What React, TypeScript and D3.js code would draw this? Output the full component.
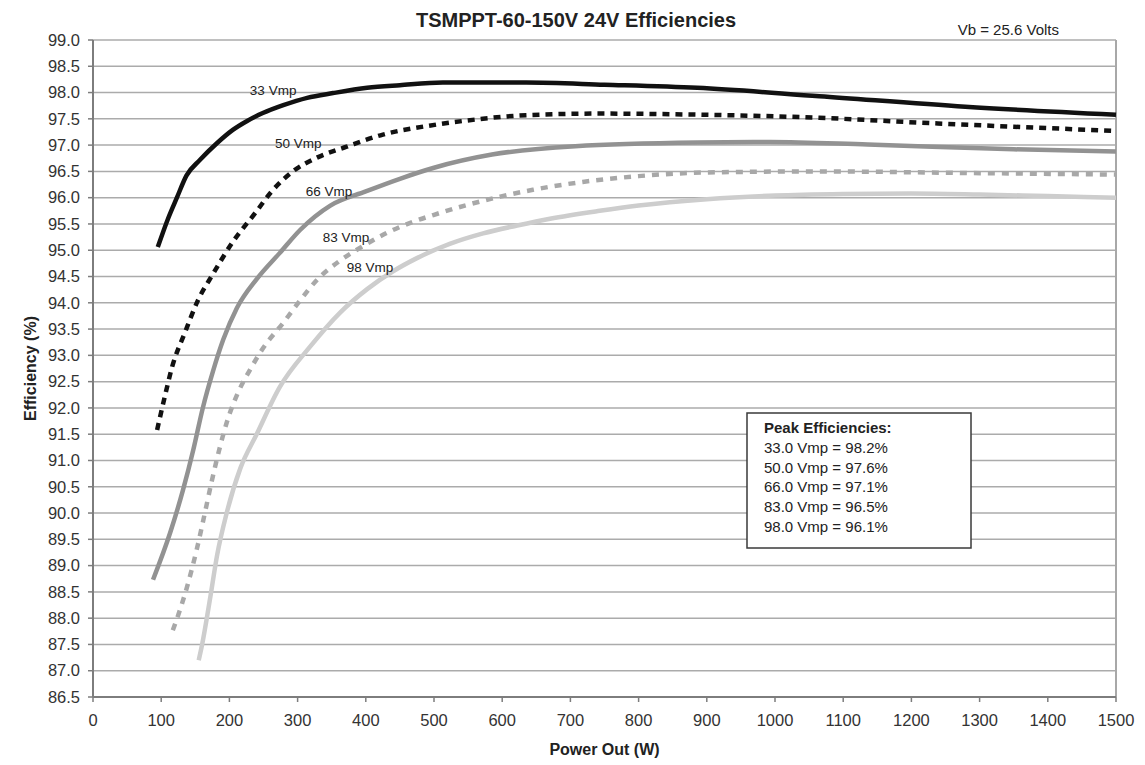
import * as d3 from "d3";

// power out (W), efficiency (%) pairs
const vmp33: [number, number][] = [
  [95, 95.06], [110, 95.6], [123, 96.0], [137, 96.42], [157, 96.72], [182, 97.04],
  [205, 97.29], [226, 97.46], [249, 97.61], [279, 97.76], [314, 97.9], [352, 97.99],
  [402, 98.09], [450, 98.14], [513, 98.19], [635, 98.19], [750, 98.15], [886, 98.09],
  [1065, 97.93], [1279, 97.73], [1500, 97.58],
];
const vmp50: [number, number][] = [
  [94, 91.58], [105, 92.2], [116, 92.78], [135, 93.44], [154, 94.05], [176, 94.55],
  [205, 95.16], [238, 95.71], [262, 96.12], [293, 96.5], [328, 96.76], [372, 96.97],
  [425, 97.2], [493, 97.37], [563, 97.49], [635, 97.57], [743, 97.6], [886, 97.58],
  [1065, 97.52], [1208, 97.43], [1350, 97.35], [1500, 97.27],
];
const vmp66: [number, number][] = [
  [88, 88.73], [113, 89.62], [132, 90.44], [147, 91.2], [161, 92.0], [176, 92.7],
  [191, 93.3], [211, 93.9], [240, 94.45], [274, 94.95], [304, 95.39], [348, 95.85],
  [400, 96.12], [450, 96.36], [500, 96.57], [585, 96.82], [707, 96.98], [886, 97.05],
  [993, 97.06], [1136, 97.01], [1350, 96.92], [1500, 96.88],
];
const vmp83: [number, number][] = [
  [117, 87.77], [125, 88.06], [138, 88.6], [152, 89.3], [164, 90.0], [174, 90.6],
  [186, 91.25], [198, 91.8], [213, 92.3], [230, 92.72], [249, 93.13], [279, 93.62],
  [304, 94.05], [328, 94.43], [362, 94.8], [396, 95.08], [431, 95.33], [469, 95.54],
  [499, 95.67], [548, 95.86], [597, 96.02], [645, 96.15], [718, 96.3], [800, 96.41],
  [900, 96.48], [1065, 96.5], [1279, 96.47], [1500, 96.44],
];
const vmp98: [number, number][] = [
  [155, 87.2], [160, 87.5], [172, 88.4], [182, 89.2], [196, 90.0], [216, 90.85],
  [240, 91.5], [274, 92.4], [318, 93.16], [362, 93.81], [402, 94.26], [440, 94.6],
  [475, 94.85], [523, 95.12], [572, 95.32], [622, 95.47], [670, 95.6], [743, 95.75],
  [800, 95.85], [900, 95.97], [1000, 96.04], [1100, 96.07], [1200, 96.08], [1300, 96.06],
  [1400, 96.03], [1500, 96.0],
];

const seriesNames = ["33 Vmp", "50 Vmp", "66 Vmp", "83 Vmp", "98 Vmp"];
const seriesData = [vmp33, vmp50, vmp66, vmp83, vmp98];
const seriesColors = ["#111111", "#111111", "#929292", "#a8a8a8", "#cdcdcd"];
const seriesDash = [null, "7,6", null, "7,7", null];

// in-plot curve labels: [power, efficiency] of the label's start/baseline
const labelPos: [number, number][] = [
  [230, 97.95], [267, 96.95], [312, 96.03], [337, 95.16], [372, 94.59],
];

const xTicks = d3.range(0, 1501, 100);
const yTicks = d3.range(86.5, 99.01, 0.5);

const peakLines = [
  "33.0 Vmp = 98.2%",
  "50.0 Vmp = 97.6%",
  "66.0 Vmp = 97.1%",
  "83.0 Vmp = 96.5%",
  "98.0 Vmp = 96.1%",
];

const W = 1145;
const H = 765;
const margin = { top: 40, right: 29, bottom: 68, left: 93 };
const font = "Liberation Sans, Arial, sans-serif";

export default function App() {
  const x = d3.scaleLinear().domain([0, 1500]).range([margin.left, W - margin.right]);
  const y = d3.scaleLinear().domain([86.5, 99]).range([H - margin.bottom, margin.top]);

  const line = d3
    .line<[number, number]>()
    .x((d) => x(d[0]))
    .y((d) => y(d[1]))
    .curve(d3.curveMonotoneX);

  const x0 = x(0);
  const x1 = x(1500);
  const yBottom = y(86.5);
  const yTop = y(99);

  return (
    <svg
      width={W}
      height={H}
      style={{ position: "absolute", left: 0, top: 0, background: "#fff" }}
      fontFamily={font}
    >
      <rect width={W} height={H} fill="#fff" />

      {/* grid */}
      {yTicks.map((t) => (
        <line key={"g" + t} x1={x0} x2={x1} y1={y(t)} y2={y(t)} stroke="#ababab" strokeWidth={1.5} />
      ))}
      <line x1={x1} x2={x1} y1={yTop} y2={yBottom} stroke="#a8a8a8" strokeWidth={2} />

      {/* y axis */}
      <line x1={x0} x2={x0} y1={yTop} y2={yBottom} stroke="#7d7d7d" strokeWidth={2} />
      {yTicks.map((t) => (
        <g key={"y" + t}>
          <line x1={x0 - 5} x2={x0} y1={y(t)} y2={y(t)} stroke="#7d7d7d" strokeWidth={1.5} />
          <text x={x0 - 13} y={y(t)} dy="0.35em" textAnchor="end" fontSize={16.5} fill="#333">
            {t.toFixed(1)}
          </text>
        </g>
      ))}

      {/* x axis */}
      <line x1={x0} x2={x1} y1={yBottom} y2={yBottom} stroke="#7d7d7d" strokeWidth={2} />
      {xTicks.map((t) => (
        <g key={"x" + t}>
          <line x1={x(t)} x2={x(t)} y1={yBottom} y2={yBottom + 5} stroke="#7d7d7d" strokeWidth={1.5} />
          <text x={x(t)} y={yBottom + 29} textAnchor="middle" fontSize={16.5} fill="#333">
            {t}
          </text>
        </g>
      ))}

      {/* curves */}
      {seriesData.map((d, i) => (
        <path
          key={seriesNames[i]}
          d={line(d) ?? ""}
          fill="none"
          stroke={seriesColors[i]}
          strokeWidth={4.5}
          strokeDasharray={seriesDash[i] ?? undefined}
          strokeLinejoin="round"
        />
      ))}

      {/* curve labels */}
      {labelPos.map((p, i) => (
        <text key={"l" + i} x={x(p[0])} y={y(p[1])} fontSize={13.5} fill="#222">
          {seriesNames[i]}
        </text>
      ))}

      {/* peak efficiencies box */}
      <rect x={747} y={413} width={224} height={135} fill="#fff" stroke="#3a3a3a" strokeWidth={1.5} />
      <text x={764} y={433} fontSize={15} fontWeight="bold" fill="#222">
        Peak Efficiencies:
      </text>
      {peakLines.map((s, i) => (
        <text key={s} x={764} y={453 + i * 19.7} fontSize={15} fill="#222">
          {s}
        </text>
      ))}

      {/* titles */}
      <text x={576} y={27} textAnchor="middle" fontSize={20} fontWeight="bold" fill="#222">
        TSMPPT-60-150V 24V Efficiencies
      </text>
      <text x={1059} y={35} textAnchor="end" fontSize={15} fill="#222">
        Vb = 25.6 Volts
      </text>
      <text
        transform={`translate(36,${(yTop + yBottom) / 2}) rotate(-90)`}
        textAnchor="middle"
        fontSize={16}
        fontWeight="bold"
        fill="#222"
      >
        Efficiency (%)
      </text>
      <text x={(x0 + x1) / 2} y={755} textAnchor="middle" fontSize={16} fontWeight="bold" fill="#222">
        Power Out (W)
      </text>
    </svg>
  );
}
